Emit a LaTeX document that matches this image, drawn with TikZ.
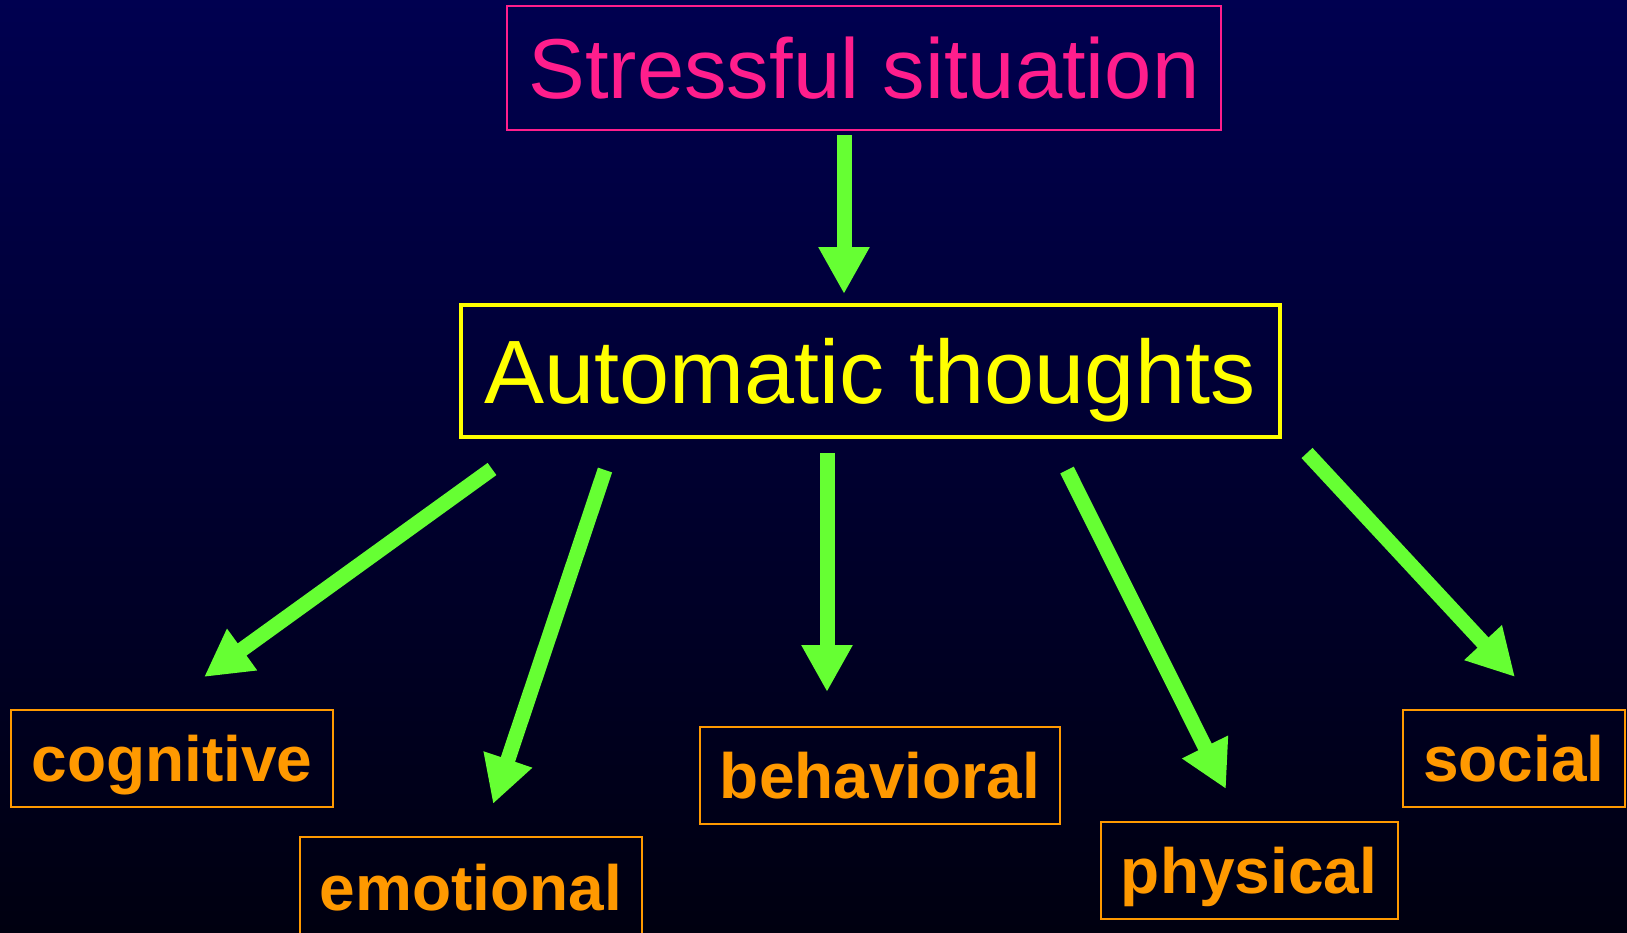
\documentclass[tikz,border=0pt]{standalone}
\usepackage{fontspec}
\setmainfont{Liberation Sans}
\usepackage{tikz}
\usetikzlibrary{arrows.meta,calc}
\definecolor{bgtop}{RGB}{0,0,80}
\definecolor{bgbot}{RGB}{0,0,16}
\definecolor{pinkt}{RGB}{255,30,140}
\definecolor{yellowt}{RGB}{255,255,0}
\definecolor{oranget}{RGB}{255,153,0}
\definecolor{greena}{RGB}{102,255,51}

\begin{document}
\begin{tikzpicture}[x=1pt,y=-1pt,
  box/.style={draw,inner sep=0pt,text depth=0pt},
  kind/.style={box,draw=oranget,text=oranget,line width=2pt,minimum height=97pt,
    text height=46pt,font=\fontsize{64}{70}\selectfont\bfseries},
  arr/.style={greena,line width=15pt,-{Triangle[length=47pt,width=48pt]}}]
\useasboundingbox (0,0) rectangle (1627,932);
\clip (0,0) rectangle (1627,932);
\shade[top color=bgtop,bottom color=bgbot] (0,0) rectangle (1627,932);

\node[box,draw=pinkt,text=pinkt,line width=2pt,minimum width=714pt,minimum height=124pt,
  text height=61pt,font=\fontsize{85}{95}\selectfont] (stress) at (864,68) {Stressful situation};
\node[box,draw=yellowt,text=yellowt,line width=4pt,minimum width=819pt,minimum height=132pt,
  text height=64pt,font=\fontsize{90}{100}\selectfont] (auto) at (870,371) {Automatic thoughts};

\node[kind,minimum width=322pt] (cog) at (172,758) {cognitive};
\node[kind,minimum width=342pt,minimum height=100pt] (emo) at (471,887) {emotional};
\node[kind,minimum width=360pt] (beh) at (880,775) {behavioral};
\node[kind,minimum width=297pt] (phy) at (1249,870) {physical};
\node[kind,minimum width=222pt] (soc) at (1514,758) {social};

% arrow ends
\coordinate (s0) at (844,135);  \coordinate (e0) at (844,294);
\coordinate (s1) at (492,469);  \coordinate (e1) at (204,677);
\coordinate (s2) at (605,470);  \coordinate (e2) at (493,804);
\coordinate (s3) at (827,453);  \coordinate (e3) at (827,692);
\coordinate (s4) at (1067,470); \coordinate (e4) at (1226,789);
\coordinate (s5) at (1307,453); \coordinate (e5) at (1515,677);
\foreach \h in {0,...,5}{
\draw[arr] (s\h) -- (e\h);
}
\end{tikzpicture}
\end{document}
